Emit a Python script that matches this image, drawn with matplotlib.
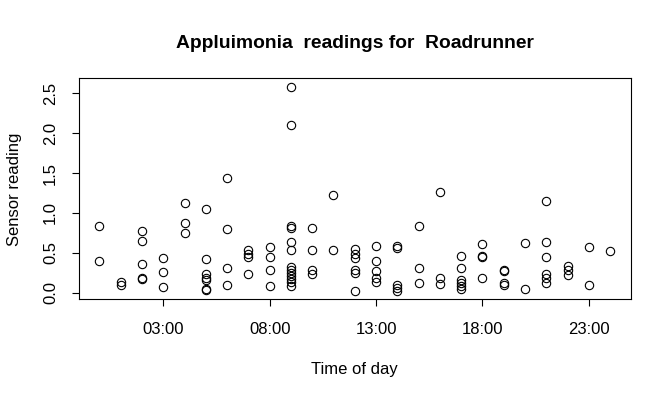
import matplotlib
matplotlib.use("Agg")
import matplotlib.pyplot as plt

plt.rcParams['font.family'] = ['Liberation Sans', 'DejaVu Sans']

# hour of day for each reading, and the reading itself
hour = ([0] * 2 + [1] * 2 + [2] * 5 + [3] * 3 + [4] * 3 + [5] * 7 + [6] * 4 + [7] * 4
        + [8] * 4 + [9] * 13 + [10] * 4 + [11] * 2 + [12] * 6 + [13] * 5 + [14] * 5
        + [15] * 3 + [16] * 3 + [17] * 6 + [18] * 4 + [19] * 4 + [20] * 2 + [21] * 6
        + [22] * 3 + [23] * 2 + [24] * 1)
reading = [0.84, 0.40,
           0.13, 0.09,
           0.77, 0.65, 0.36, 0.18, 0.17,
           0.43, 0.26, 0.07,
           1.13, 0.87, 0.75,
           1.05, 0.42, 0.23, 0.19, 0.16, 0.04, 0.03,
           1.44, 0.80, 0.31, 0.09,
           0.54, 0.49, 0.45, 0.23,
           0.57, 0.45, 0.28, 0.08,
           2.58, 2.10, 0.84, 0.81, 0.63, 0.53, 0.32, 0.28, 0.25, 0.21, 0.17, 0.13, 0.08,
           0.81, 0.54, 0.28, 0.23,
           1.22, 0.53,
           0.55, 0.49, 0.43, 0.29, 0.25, 0.02,
           0.59, 0.40, 0.27, 0.19, 0.14,
           0.58, 0.56, 0.09, 0.06, 0.02,
           0.84, 0.31, 0.12,
           1.26, 0.19, 0.11,
           0.46, 0.31, 0.16, 0.12, 0.08, 0.05,
           0.61, 0.46, 0.45, 0.18,
           0.28, 0.27, 0.12, 0.10,
           0.62, 0.05,
           1.15, 0.63, 0.45, 0.23, 0.18, 0.12,
           0.33, 0.28, 0.22,
           0.57, 0.10,
           0.52]

xticks = [3, 8, 13, 18, 23]
xlabels = ['03:00', '08:00', '13:00', '18:00', '23:00']
yticks = [0.0, 0.5, 1.0, 1.5, 2.0, 2.5]

fig = plt.figure(figsize=(6.71, 3.98), dpi=100)
ax = fig.add_axes([0.1177, 0.248, 0.822, 0.555])

ax.plot(hour, reading, 'o', mfc='none', mec='black', ms=6, mew=0.8)

ax.set_xlim(-0.96, 24.96)
ax.set_ylim(-0.083, 2.686)
ax.set_xticks(xticks)
ax.set_xticklabels(xlabels)
ax.set_yticks(yticks)
ax.set_yticklabels(['%.1f' % v for v in yticks], rotation=90, va='center')
ax.tick_params(direction='out', length=5, width=0.8, labelsize=12, color='black')
ax.tick_params(axis='x', pad=11)
ax.tick_params(axis='y', pad=10)
for s in ax.spines.values():
    s.set_linewidth(0.8)

ax.set_title('Appluimonia  readings for  Roadrunner', fontsize=13.9,
             fontweight='bold', pad=22)
ax.set_xlabel('Time of day', fontsize=12, labelpad=18)
ax.set_ylabel('Sensor reading', fontsize=12, labelpad=15)

fig.savefig('out.png', dpi=100)
